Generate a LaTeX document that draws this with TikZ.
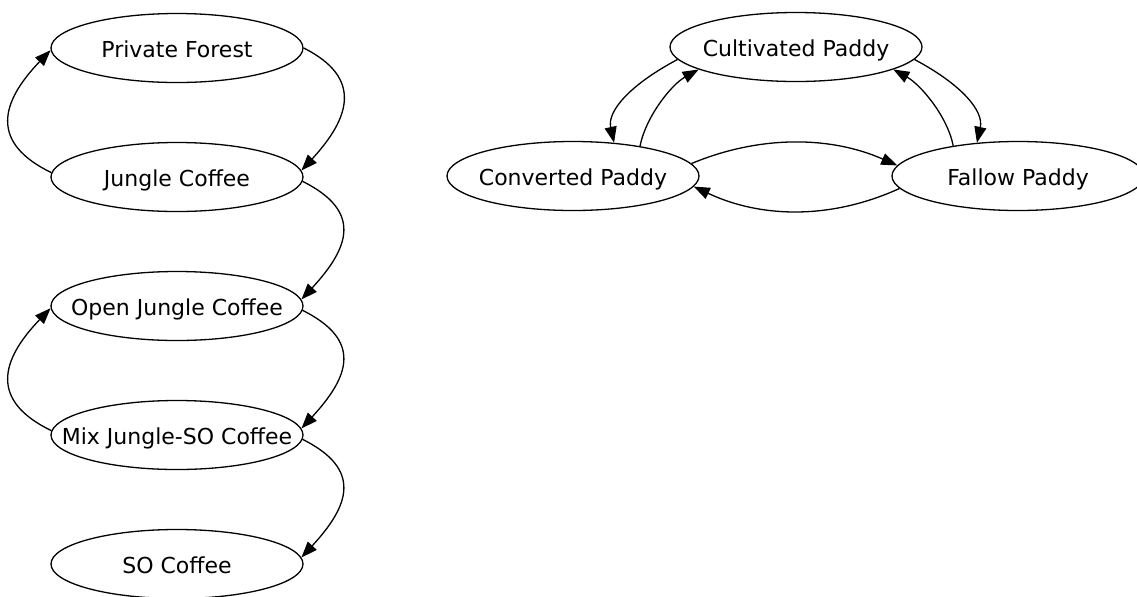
\documentclass[tikz,border=0pt]{standalone}
\usepackage{fontspec}
\setmainfont{DejaVu Sans}
\usetikzlibrary{arrows.meta,shapes.geometric}

\tikzset{
  state/.style={ellipse, draw, line width=0.65pt, inner sep=0pt,
    minimum width=126pt, minimum height=34.5pt,
    font=\fontsize{11}{13}\selectfont},
  trans/.style={line width=0.65pt, -{Triangle[length=8pt,width=6pt]}}
}
% state label: zero-width, fixed-height box so every ellipse keeps the same size
% and every label sits on the same baseline
\newcommand{\statelabel}[1]{\makebox[0pt]{\smash{#1}\rule{0pt}{9pt}}}

\begin{document}
\begin{tikzpicture}[x=0.5pt, y=-0.5pt]
  \useasboundingbox (0,0) rectangle (1137,596);

  % coffee land-use chain
  \node[state] (pf)  at (177,48)  {\statelabel{Private Forest}};
  \node[state] (jc)  at (177,177) {\statelabel{Jungle Coffee}};
  \node[state] (ojc) at (177,306) {\statelabel{Open Jungle Coffee}};
  \node[state] (mix) at (177,435) {\statelabel{Mix Jungle-SO Coffee}};
  \node[state] (so)  at (177,564) {\statelabel{SO Coffee}};

  % paddy cycle
  \node[state] (cu) at (796,47)  {\statelabel{Cultivated Paddy}};
  \node[state] (cv) at (573,176) {\statelabel{Converted Paddy}};
  \node[state] (fa) at (1018,176) {\statelabel{Fallow Paddy}};

  % forward transitions on the right of the chain
  \draw[trans] (pf.east)  .. controls +(60,30) and +(48,-52) .. (jc.3);
  \draw[trans] (jc.-2)    .. controls +(60,30) and +(48,-52) .. (ojc.3);
  \draw[trans] (ojc.-2)   .. controls +(60,30) and +(48,-52) .. (mix.3);
  \draw[trans] (mix.-2)   .. controls +(60,30) and +(48,-52) .. (so.3);

  % reverse transitions on the left
  \draw[trans] (jc.178)  .. controls +(-62,-30) and +(-50,52) .. (pf.181);
  \draw[trans] (mix.178) .. controls +(-62,-30) and +(-50,52) .. (ojc.181);

  % paddy transitions
  \draw[trans] (cu.186)   .. controls +(-47,25) and +(-7,-32) .. (cv.39);
  \draw[trans] (cv.24)    .. controls +(6,-30)  and +(-27,15) .. (cu.193);
  \draw[trans] (cu.354)   .. controls +(47,25)  and +(7,-32)  .. (fa.141);
  \draw[trans] (fa.155.5) .. controls +(-6,-30) and +(27,15)  .. (cu.347);
  \draw[trans] (cv.6)     .. controls +(67,-28) and +(-68,-30) .. (fa.175);
  \draw[trans] (fa.186)   .. controls +(-68,31) and +(68,32)  .. (cv.-5);
\end{tikzpicture}
\end{document}
